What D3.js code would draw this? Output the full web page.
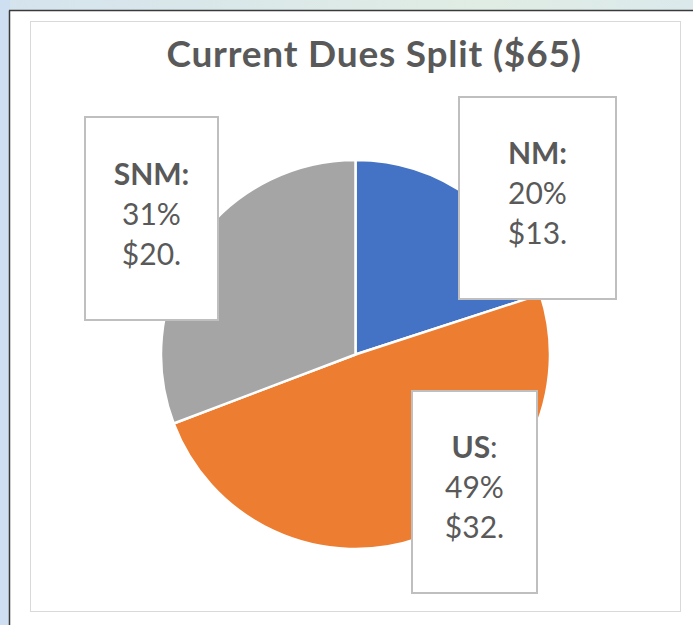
<!DOCTYPE html>
<html>
<head>
<meta charset="utf-8">
<script src="https://cdn.jsdelivr.net/npm/d3@7"></script>
<style>
    body { margin: 0; background: #fff; }
    svg { display: block; }
    .lbl { font-family: Lato, "Open Sans", sans-serif; fill: #595959; }
</style>
</head>
<body>
<div id="chart"></div>
<script>
// Chart data
const categories = ["NM", "US", "SNM"];
const dues = [13, 32, 20];
const sliceColors = ["#4472C4", "#ED7D31", "#A5A5A5"];
const chartTitle = "Current Dues Split ($65)";

// Label boxes (moved by hand in the original), centre + size
const labelBoxes = [
    {cx: 537.5, cy: 198, w: 157, h: 202},
    {cx: 474.5, cy: 492, w: 125, h: 202},
    {cx: 151.5, cy: 218.5, w: 133, h: 203}
];

let W = 693, H = 625;

let svg = d3.select("#chart").append("svg")
    .attr("width", W)
    .attr("height", H);

// Outer window background
let grad = svg.append("defs").append("linearGradient")
    .attr("id", "topGrad")
    .attr("x1", 0).attr("x2", 1).attr("y1", 0).attr("y2", 0);
grad.append("stop").attr("offset", "0%").attr("stop-color", "#d5e3ee");
grad.append("stop").attr("offset", "70%").attr("stop-color", "#e0ede4");
grad.append("stop").attr("offset", "100%").attr("stop-color", "#dbe9ec");

svg.append("rect").attr("x", 0).attr("y", 0).attr("width", W).attr("height", 11)
    .attr("fill", "url(#topGrad)");
svg.append("rect").attr("x", 0).attr("y", 0).attr("width", 10).attr("height", H)
    .attr("fill", "#cddff0");
svg.append("line").attr("x1", 9.5).attr("x2", 9.5).attr("y1", 10.5).attr("y2", H)
    .attr("stroke", "#3a3a3a").attr("stroke-width", 1.5);
svg.append("line").attr("x1", 9).attr("x2", W).attr("y1", 10.5).attr("y2", 10.5)
    .attr("stroke", "#3a3a3a").attr("stroke-width", 1.5);

// Chart area
svg.append("rect")
    .attr("x", 30.5).attr("y", 21.5)
    .attr("width", 650).attr("height", 590)
    .attr("fill", "#fff")
    .attr("stroke", "#d9d9d9")
    .attr("stroke-width", 1);

// Title
svg.append("text")
    .attr("class", "lbl")
    .attr("x", 374)
    .attr("y", 67)
    .attr("text-anchor", "middle")
    .style("font-size", "37px")
    .style("font-weight", "bold")
    .style("letter-spacing", "0.8px")
    .text(chartTitle);

// Pie
let cx = 355.5, cy = 354.5, r = 194.5;
let total = d3.sum(dues);

let pie = d3.pie().sort(null).value(d => d)(dues);
let arc = d3.arc().innerRadius(0).outerRadius(r);

let g = svg.append("g").attr("transform", "translate(" + cx + "," + cy + ")");

g.selectAll(".slice")
    .data(pie).enter()
    .append("path")
    .attr("class", "slice")
    .attr("d", arc)
    .attr("fill", (d, i) => sliceColors[i])
    .attr("stroke", "#fff")
    .attr("stroke-width", 2.5)
    .attr("stroke-linejoin", "round");

// Data labels
let pct = d3.format(".0%");
let lineGap = 40;

categories.forEach(function (cat, i) {
    let b = labelBoxes[i];
    let lg = svg.append("g");

    lg.append("rect")
        .attr("x", b.cx - b.w / 2)
        .attr("y", b.cy - b.h / 2)
        .attr("width", b.w)
        .attr("height", b.h)
        .attr("fill", "#fff")
        .attr("stroke", "#bfbfbf")
        .attr("stroke-width", 2);

    let t = lg.append("text")
        .attr("class", "lbl")
        .attr("text-anchor", "middle")
        .style("font-size", "30px");

    let first = t.append("tspan")
        .attr("x", b.cx)
        .attr("y", b.cy + 6 - lineGap);
    first.append("tspan").style("font-weight", "bold").text(cat);
    // the US label has a regular-weight colon
    first.append("tspan").style("font-weight", cat === "US" ? "normal" : "bold").text(":");

    t.append("tspan")
        .attr("x", b.cx)
        .attr("y", b.cy + 6)
        .text(pct(dues[i] / total));

    t.append("tspan")
        .attr("x", b.cx)
        .attr("y", b.cy + 6 + lineGap)
        .text("$" + dues[i] + ".");
});
</script>
</body>
</html>
